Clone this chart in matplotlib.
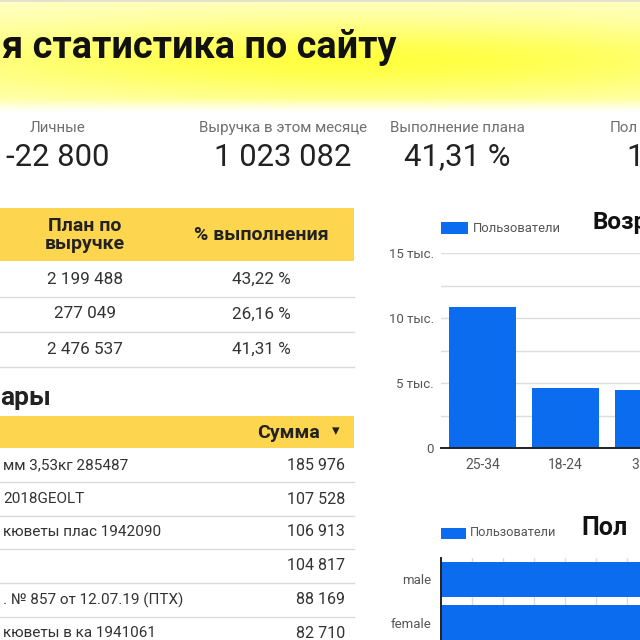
import numpy as np
import matplotlib.pyplot as plt
from matplotlib.patches import Rectangle

plt.rcParams['font.family'] = ['Roboto', 'DejaVu Sans']

# --- данные ---
title = 'я статистика по сайту'
kpi_labels = ['Личные', 'Выручка в этом месяце', 'Выполнение плана', 'Пол']
kpi_values = ['-22 800', '1 023 082', '41,31 %', '1']

plan_header = ['План по\nвыручке', '% выполнения']
plan_values = ['2 199 488', '277 049', '2 476 537']
plan_pct = ['43,22 %', '26,16 %', '41,31 %']

goods_title = 'ары'
goods_header = 'Сумма'
goods_names = ['мм 3,53кг 285487', '2018GEOLT', 'кюветы плас 1942090', '',
               '. № 857 от 12.07.19 (ПТХ)', 'кюветы в ка 1941061']
goods_sums = ['185 976', '107 528', '106 913', '104 817', '88 169', '82 710']

series_name = 'Пользователи'
age_title = 'Возр'
age_groups = ['25-34', '18-24', '35-44']
age_users = [10850, 4600, 4500]
age_ticks = [0, 5000, 10000, 15000]
age_tick_labels = ['0', '5 тыс.', '10 тыс.', '15 тыс.']

gender_title = 'Пол'
genders = ['male', 'female']
gender_users = [11800, 11500]

BLUE = '#0B6CF0'
YELLOW = '#FDD54F'
LINE = '#DADADA'
TXT = '#333333'
W = H = 640

fig = plt.figure(figsize=(6.4, 6.4), dpi=100)
bg = fig.add_axes([0, 0, 1, 1])
bg.axis('off')

# шапка с жёлтым градиентом
yy, xx = np.mgrid[0:112, 0:W]
t = np.exp(-((xx - 360) / 480.0) ** 2 - ((yy - 60) / 42.0) ** 2)
blue_ch = 205 - 140 * t
fade = np.clip((yy - 98) / 13.0, 0, 1)
blue_ch = blue_ch * (1 - fade) + 250 * fade
img = np.dstack([np.full_like(blue_ch, 255), np.full_like(blue_ch, 255), blue_ch]) / 255.0
img[:2] = np.array([228, 224, 206]) / 255.0
bg.imshow(img, extent=[0, W, 112, 0], aspect='auto', zorder=0)
bg.set_xlim(0, W)
bg.set_ylim(H, 0)
bg.text(396, 58, title, ha='right', va='baseline', fontsize=27.3, fontweight='bold', color='#111111')

# KPI
kpi_x = [58, 283, 457, None]
for i, (lab, val) in enumerate(zip(kpi_labels, kpi_values)):
    if kpi_x[i] is None:
        bg.text(610, 128, lab, ha='left', va='center', fontsize=10.9, color='#6f6f6f')
        bg.text(626, 157, val, ha='left', va='center', fontsize=22.3, color='#222222')
    else:
        bg.text(kpi_x[i], 128, lab, ha='center', va='center', fontsize=10.9, color='#6f6f6f')
        bg.text(kpi_x[i], 157, val, ha='center', va='center', fontsize=22.3, color='#222222')

# таблица плана
bg.add_patch(Rectangle((0, 208), 354, 53, color=YELLOW, lw=0))
bg.text(85, 235, plan_header[0], ha='center', va='center', fontsize=14,
        fontweight='bold', color='#222222', linespacing=1.0)
bg.text(261, 235, plan_header[1], ha='center', va='center', fontsize=14,
        fontweight='bold', color='#222222')
row_y = [279, 314, 349]
for i, y in enumerate(row_y):
    bg.text(85, y, plan_values[i], ha='center', va='center', fontsize=12.3, color=TXT)
    bg.text(261, y, plan_pct[i], ha='center', va='center', fontsize=12.3, color=TXT)
    bg.plot([0, 354], [y + 18, y + 18], color=LINE, lw=1)

# таблица товаров
bg.text(0, 398, goods_title, ha='left', va='center', fontsize=19, fontweight='bold', color='#222222')
bg.add_patch(Rectangle((0, 416), 354, 32, color=YELLOW, lw=0))
bg.text(320, 433, goods_header, ha='right', va='center', fontsize=14, fontweight='bold', color='#222222')
bg.text(336, 431, '▾', ha='center', va='center', fontsize=11, color='#222222', family='DejaVu Sans')
g_y = [465, 499, 532, 566, 600, 633]
for i, y in enumerate(g_y):
    bg.text(3, y, goods_names[i], ha='left', va='center', fontsize=11, color=TXT)
    bg.text(345, y, goods_sums[i], ha='right', va='center', fontsize=11.5, color=TXT)
    if i < len(g_y) - 1:
        bg.plot([0, 354], [y + 17, y + 17], color=LINE, lw=1)

# возраст: столбцы
step = 83.0
ax1 = fig.add_axes([441 / W, (H - 448) / H, step * len(age_groups) / W, 195 / H])
ax1.bar(range(len(age_groups)), age_users, width=0.8, color=BLUE, zorder=2)
ax1.set_xlim(-0.5, len(age_groups) - 0.5)
ax1.set_ylim(0, 15000)
ax1.set_yticks(age_ticks)
ax1.set_yticklabels(age_tick_labels)
ax1.set_yticks([2500, 7500, 12500], minor=True)
ax1.grid(axis='y', which='both', color='#DDDDDD', lw=1, zorder=0)
ax1.set_xticks(range(len(age_groups)))
ax1.set_xticklabels(age_groups)
for s in ['top', 'right', 'left']:
    ax1.spines[s].set_visible(False)
ax1.spines['bottom'].set_color('#222222')
ax1.spines['bottom'].set_linewidth(1.4)
ax1.tick_params(axis='both', which='both', length=0, labelcolor='#555555')
ax1.tick_params(axis='y', pad=5, labelsize=9.5)
ax1.tick_params(axis='x', pad=7, labelsize=10)
ax1.set_facecolor('none')

bg.add_patch(Rectangle((441, 222), 27, 12, color=BLUE, lw=0))
bg.text(473, 228, series_name, ha='left', va='center', fontsize=9.4, color='#555555')
bg.text(592, 222, age_title, ha='left', va='center', fontsize=17.5, fontweight='bold', color='#111111')

# пол: горизонтальные столбцы
ax2 = fig.add_axes([441 / W, (H - 644) / H, 372 / W, 86 / H])
ax2.barh(range(len(genders)), gender_users, height=0.8, color=BLUE, zorder=2)
ax2.set_ylim(len(genders) - 0.5, -0.5)
ax2.set_xlim(0, 12000)
ax2.set_xticks(np.arange(0, 12001, 1000))
ax2.set_xticklabels([])
ax2.grid(axis='x', color='#DDDDDD', lw=1, zorder=0)
ax2.set_yticks(range(len(genders)))
ax2.set_yticklabels(genders)
for s in ['top', 'right', 'bottom']:
    ax2.spines[s].set_visible(False)
ax2.spines['left'].set_color('#222222')
ax2.spines['left'].set_linewidth(1.4)
ax2.tick_params(axis='both', length=0, labelsize=9.5, labelcolor='#555555')
ax2.tick_params(axis='y', pad=7)
ax2.set_facecolor('none')

bg.add_patch(Rectangle((441, 528), 25, 11, color=BLUE, lw=0))
bg.text(470, 533, series_name, ha='left', va='center', fontsize=9.2, color='#555555')
bg.text(581, 528, gender_title, ha='left', va='center', fontsize=18, fontweight='bold', color='#111111')

fig.savefig('out.png', dpi=100)
